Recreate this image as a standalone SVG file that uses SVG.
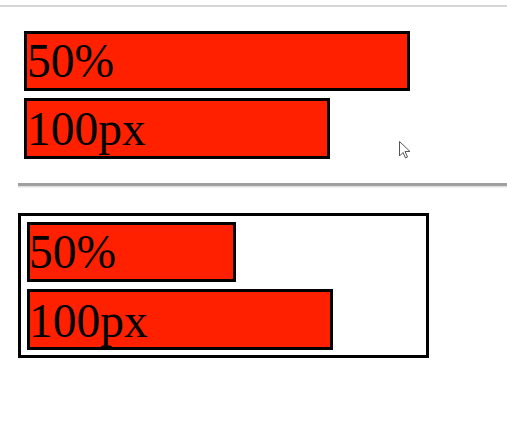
<svg xmlns="http://www.w3.org/2000/svg" width="507" height="428" viewBox="0 0 507 428">
<style>
.bar{fill:#ff2000;stroke:#000;stroke-width:3}
.lbl{font-family:"Liberation Serif",serif;font-size:47.5px;fill:#000}
</style>
<rect width="507" height="428" fill="#fff"/>
<line x1="0" y1="6" x2="507" y2="6" stroke="#c8c8c8" stroke-width="1.5"/>
<g id="top50"><rect class="bar" x="25.5" y="32.5" width="383" height="57"/><text class="lbl" x="27" y="77">50%</text></g>
<g id="top100"><rect class="bar" x="25.5" y="99.5" width="303" height="58"/><text class="lbl" x="27" y="145">100px</text></g>
<rect x="18" y="183" width="489" height="3" fill="#a0a0a0"/>
<rect x="18" y="186" width="489" height="1.5" fill="#e0e0e0"/>
<g id="container"><rect x="19.5" y="214.5" width="408" height="142" fill="#fff" stroke="#000" stroke-width="3"/></g>
<g id="bot50"><rect class="bar" x="28.5" y="223.5" width="206" height="57"/><text class="lbl" x="29" y="268">50%</text></g>
<g id="bot100"><rect class="bar" x="28.5" y="290.5" width="303" height="58"/><text class="lbl" x="29" y="337">100px</text></g>
<g id="connectors"/>
<path d="M399.5 141.5 L399.5 156 L403 152.5 L405.5 158 L407.5 157 L405 151.5 L410 151.5 Z" fill="#fff" stroke="#555" stroke-width="1"/>
</svg>
